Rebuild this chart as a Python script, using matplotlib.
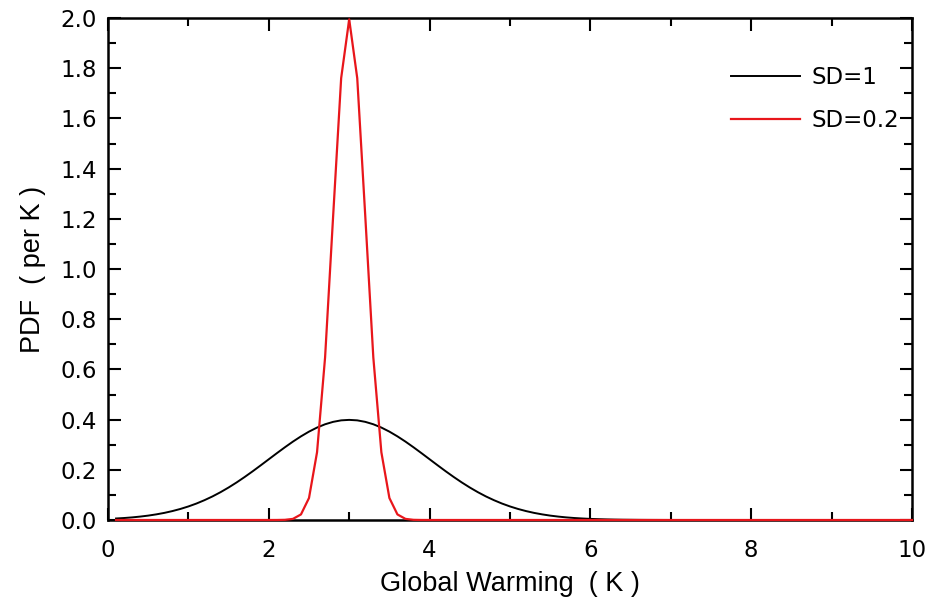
import numpy as np
import matplotlib
matplotlib.use("Agg")
import matplotlib.pyplot as plt
from matplotlib.ticker import MultipleLocator, FormatStrFormatter

plt.rcParams['font.family'] = ['Liberation Sans', 'DejaVu Sans']

# sample positions (K)
x_k = np.round(np.linspace(0.1, 10.0, 100), 1)

# PDF, SD = 1
pdf_sd1 = [
    0.0060, 0.0079, 0.0104, 0.0136, 0.0175, 0.0224, 0.0283, 0.0355, 0.0440, 0.0540,
    0.0656, 0.0790, 0.0940, 0.1109, 0.1295, 0.1497, 0.1714, 0.1942, 0.2179, 0.2420,
    0.2661, 0.2897, 0.3123, 0.3332, 0.3521, 0.3683, 0.3814, 0.3910, 0.3970, 0.3989,
    0.3970, 0.3910, 0.3814, 0.3683, 0.3521, 0.3332, 0.3123, 0.2897, 0.2661, 0.2420,
    0.2179, 0.1942, 0.1714, 0.1497, 0.1295, 0.1109, 0.0940, 0.0790, 0.0656, 0.0540,
    0.0440, 0.0355, 0.0283, 0.0224, 0.0175, 0.0136, 0.0104, 0.0079, 0.0060, 0.0044,
    0.0033, 0.0024, 0.0017, 0.0012, 0.0009, 0.0006, 0.0004, 0.0003, 0.0002, 0.0001,
    0.0, 0.0, 0.0, 0.0, 0.0, 0.0, 0.0, 0.0, 0.0, 0.0,
    0.0, 0.0, 0.0, 0.0, 0.0, 0.0, 0.0, 0.0, 0.0, 0.0,
    0.0, 0.0, 0.0, 0.0, 0.0, 0.0, 0.0, 0.0, 0.0, 0.0,
]

# PDF, SD = 0.2
pdf_sd02 = [
    0.0, 0.0, 0.0, 0.0, 0.0, 0.0, 0.0, 0.0, 0.0, 0.0,
    0.0, 0.0, 0.0, 0.0, 0.0, 0.0, 0.0, 0.0, 0.0, 0.0,
    0.0001, 0.0007, 0.0044, 0.0222, 0.0876, 0.2700, 0.6476, 1.2099, 1.7603, 1.9947,
    1.7603, 1.2099, 0.6476, 0.2700, 0.0876, 0.0222, 0.0044, 0.0007, 0.0001, 0.0,
    0.0, 0.0, 0.0, 0.0, 0.0, 0.0, 0.0, 0.0, 0.0, 0.0,
    0.0, 0.0, 0.0, 0.0, 0.0, 0.0, 0.0, 0.0, 0.0, 0.0,
    0.0, 0.0, 0.0, 0.0, 0.0, 0.0, 0.0, 0.0, 0.0, 0.0,
    0.0, 0.0, 0.0, 0.0, 0.0, 0.0, 0.0, 0.0, 0.0, 0.0,
    0.0, 0.0, 0.0, 0.0, 0.0, 0.0, 0.0, 0.0, 0.0, 0.0,
    0.0, 0.0, 0.0, 0.0, 0.0, 0.0, 0.0, 0.0, 0.0, 0.0,
]

series_labels = ["SD=1", "SD=0.2"]

W, H = 934, 609
fig = plt.figure(figsize=(W / 100, H / 100), dpi=100)
ax = fig.add_axes([108 / W, 1 - 520 / H, (912 - 108) / W, (520 - 18) / H])

ax.plot(x_k, pdf_sd1, color='black', lw=1.4, label=series_labels[0],
        clip_on=False, zorder=4)
ax.plot(x_k, pdf_sd02, color='#e8161b', lw=1.6, label=series_labels[1],
        clip_on=False, zorder=5)

ax.set_xlim(0, 10)
ax.set_ylim(0, 2.0)
ax.xaxis.set_major_locator(MultipleLocator(2))
ax.xaxis.set_minor_locator(MultipleLocator(1))
ax.yaxis.set_major_locator(MultipleLocator(0.2))
ax.yaxis.set_minor_locator(MultipleLocator(0.1))
ax.yaxis.set_major_formatter(FormatStrFormatter('%.1f'))

tick_font = ['DejaVu Sans']
ax.tick_params(which='both', direction='in', top=True, right=True, width=1.5,
               labelsize=16.5, color='black')
ax.tick_params(which='major', length=9)
ax.tick_params(which='minor', length=6)
ax.tick_params(axis='x', which='major', pad=14)
ax.tick_params(axis='y', which='major', pad=8)
for lab in ax.get_xticklabels() + ax.get_yticklabels():
    lab.set_family(tick_font)
for s in ax.spines.values():
    s.set_linewidth(1.8)

ax.set_xlabel("Global Warming  ( K )", fontsize=19.5, labelpad=6)
ax.set_ylabel("PDF  ( per K )", fontsize=19.5, labelpad=10)

leg = ax.legend(loc='upper left', bbox_to_anchor=(0.775, 0.905), frameon=False,
                prop={'family': tick_font, 'size': 16.5},
                handlelength=3.0, handletextpad=0.5,
                labelspacing=0.9, borderpad=0, borderaxespad=0)

fig.savefig("out.png", dpi=100)
